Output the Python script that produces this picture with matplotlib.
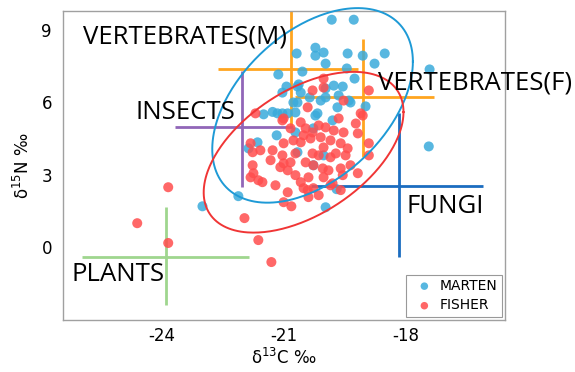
import numpy as np
import matplotlib
matplotlib.use("Agg")
import matplotlib.pyplot as plt

# ---------------- data ----------------
marten_x = [-19.82, -19.28, -20.22, -20.02, -20.22, -19.43, -19.06, -18.52, -18.77, -17.42,
            -17.44, -20.68, -20.54, -19.97, -19.45, -19.26, -20.93, -20.66, -21.03, -20.58,
            -21.13, -20.63, -19.97, -19.55, -19.65, -19.97, -19.40, -18.99, -19.68, -20.09,
            -20.36, -19.77, -20.76, -20.90, -20.71, -20.22, -19.80, -20.27, -20.71, -21.15,
            -21.27, -21.49, -21.03, -21.17, -21.64, -21.86, -20.27, -20.02, -19.97, -19.70,
            -22.99, -22.11, -20.66, -19.36, -20.17, -20.66]
marten_y = [9.42, 9.42, 8.26, 8.06, 7.93, 8.02, 7.93, 8.02, 7.60, 7.36,
            4.17, 8.02, 7.27, 7.60, 7.40, 6.98, 6.65, 6.65, 6.40, 6.40,
            7.15, 6.74, 6.57, 6.65, 6.28, 6.20, 6.07, 5.83, 5.79, 6.07,
            6.20, 6.69, 5.99, 5.54, 5.58, 5.45, 5.25, 4.92, 4.75, 5.54,
            5.60, 5.50, 5.54, 4.63, 4.34, 4.09, 3.39, 3.80, 1.65, 2.40,
            1.69, 2.11, 3.93, 5.99, 5.54, 5.99]

fisher_x = [-23.83, -24.59, -23.83, -21.96, -21.62, -21.30, -20.90, -21.00, -20.81, -20.39,
            -20.51, -19.85, -21.69, -21.03, -20.41, -20.58, -20.29, -20.51, -20.76, -20.58,
            -20.34, -21.81, -21.76, -21.27, -21.00, -21.03, -20.71, -20.83, -21.00, -20.46,
            -20.29, -20.27, -21.08, -20.90, -21.76, -21.74, -21.81, -21.62, -21.52, -20.58,
            -20.39, -20.41, -20.27, -20.14, -19.97, -19.77, -19.53, -19.23, -19.11, -19.18,
            -20.09, -19.85, -19.60, -19.43, -20.02, -19.72, -20.14, -19.85, -19.48, -18.91,
            -18.91, -20.04, -19.90, -19.60, -19.18, -20.02, -19.55, -19.80, -18.91, -19.06,
            -20.02, -20.29, -21.00, -20.02, -19.53, -20.46, -20.83, -19.65, -19.36, -20.71,
            -21.32, -21.57, -21.20, -19.60, -20.14]
fisher_y = [2.48, 0.99, 0.17, 1.20, 0.29, -0.62, 2.27, 1.86, 1.69, 2.07,
            2.44, 2.56, 5.54, 5.25, 5.79, 5.17, 4.75, 4.63, 4.42, 4.34,
            4.50, 4.30, 3.93, 4.01, 4.30, 3.80, 3.88, 3.51, 3.47, 3.51,
            3.88, 3.39, 3.31, 3.18, 3.39, 3.06, 2.89, 2.77, 2.69, 2.69,
            2.89, 2.36, 2.44, 5.04, 4.96, 4.83, 4.75, 5.12, 5.54, 4.71,
            4.55, 4.42, 4.30, 4.09, 4.13, 3.88, 3.80, 3.72, 3.80, 4.30,
            3.80, 3.26, 3.18, 3.26, 3.06, 2.89, 2.98, 2.64, 6.49, 5.45,
            6.98, 6.49, 5.33, 6.61, 6.07, 4.92, 4.92, 5.33, 3.39, 2.98,
            3.60, 4.01, 2.56, 2.36, 2.15]

# food sources: name, centre x, centre y, x range, y range
source_names = ["VERTEBRATES(M)", "VERTEBRATES(F)", "INSECTS", "FUNGI", "PLANTS"]
source_cx = [-20.81, -19.06, -22.01, -18.18, -23.88]
source_cy = [7.36, 6.20, 4.96, 2.52, -0.41]
source_xlo = [-22.62, -20.71, -23.66, -20.34, -25.94]
source_xhi = [-19.18, -17.32, -20.78, -16.11, -21.86]
source_ylo = [4.96, 3.72, 2.48, -0.41, -2.40]
source_yhi = [9.95, 8.60, 7.31, 5.54, 1.65]
source_colors = ["#FFA51F", "#FFA51F", "#9166B8", "#1B6CC0", "#9FD68E"]
label_x = [-25.92, -18.69, -24.64, -17.98, -26.19]
label_y = [8.72, 6.78, 5.58, 1.69, -1.12]

# ellipses: centre, half extents, correlation
ell_cx = [-20.29, -20.51]
ell_cy = [5.87, 3.93]
ell_sx = [2.46, 2.45]
ell_sy = [4.03, 3.33]
ell_rho = [0.45, 0.50]
ell_colors = ["#1E9AD6", "#F03535"]

xticks = [-24, -21, -18]
yticks = [0, 3, 6, 9]

# ---------------- plot ----------------
fig = plt.figure(figsize=(5.75, 3.72), dpi=100)
ax = fig.add_axes([0.1096, 0.1398, 0.7687, 0.8306])

for i in range(len(source_names)):
    ax.plot([source_xlo[i], source_xhi[i]], [source_cy[i], source_cy[i]],
            color=source_colors[i], lw=2.0, solid_capstyle="butt", zorder=1)
    ax.plot([source_cx[i], source_cx[i]], [source_ylo[i], source_yhi[i]],
            color=source_colors[i], lw=2.0, solid_capstyle="butt", zorder=1)
    ax.text(label_x[i], label_y[i], source_names[i], fontsize=18.5,
            family="Open Sans", ha="left", va="center", color="black",
            zorder=5, clip_on=False)

ax.scatter(marten_x, marten_y, s=52, color="#3BABDB", alpha=0.85,
           edgecolors="none", label="MARTEN", zorder=3)
ax.scatter(fisher_x, fisher_y, s=52, color="#FF4D4D", alpha=0.85,
           edgecolors="none", label="FISHER", zorder=3)

t = np.linspace(0, 2 * np.pi, 300)
for i in range(2):
    ex = ell_cx[i] + ell_sx[i] * np.cos(t)
    ey = ell_cy[i] + ell_sy[i] * (ell_rho[i] * np.cos(t) + np.sqrt(1 - ell_rho[i] ** 2) * np.sin(t))
    ax.plot(ex, ey, color=ell_colors[i], lw=1.4, zorder=4, clip_on=False)

ax.set_xlim(-26.41, -15.57)
ax.set_ylim(-3.02, 9.78)
ax.set_xticks(xticks)
ax.set_xticklabels([str(v) for v in xticks])
ax.set_yticks(yticks)
ax.set_yticklabels([str(v) for v in yticks])
ax.tick_params(axis="x", length=0, labelsize=12, pad=5)
ax.tick_params(axis="y", length=0, labelsize=12, pad=8)
for sp in ax.spines.values():
    sp.set_color("#A0A0A0")
    sp.set_linewidth(1.0)

ax.set_xlabel("δ$^{13}$C ‰", fontsize=12, labelpad=2)
ax.set_ylabel("δ$^{15}$N ‰", fontsize=12, labelpad=6)

leg = ax.legend(loc="lower right", fontsize=10, frameon=True, fancybox=False,
                edgecolor="#808080", handletextpad=0.1, borderpad=0.3,
                markerscale=0.75, borderaxespad=0.25, labelspacing=0.4)
leg.get_frame().set_linewidth(0.8)

fig.savefig("out.png", dpi=100)
